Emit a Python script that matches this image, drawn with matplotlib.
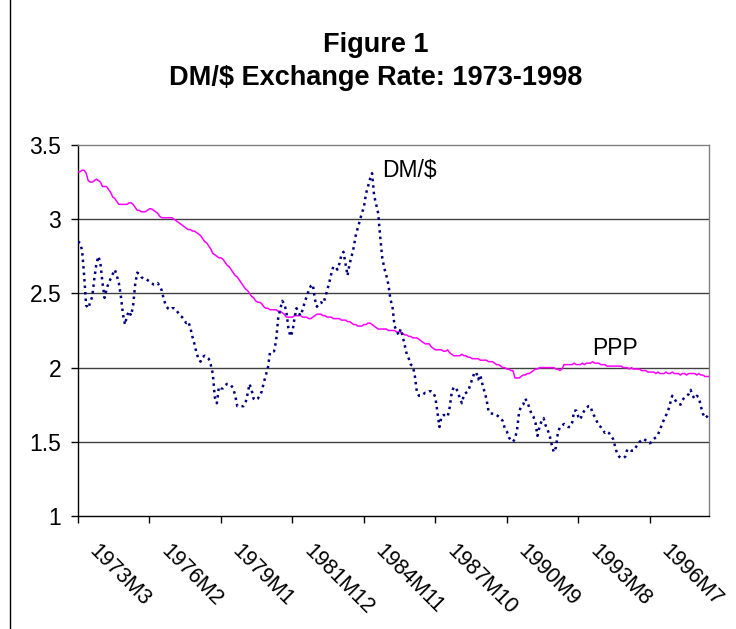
import numpy as np
import matplotlib
matplotlib.use("Agg")
import matplotlib.pyplot as plt
from matplotlib.lines import Line2D
from matplotlib.transforms import ScaledTranslation

plt.rcParams['font.family'] = ['Liberation Sans', 'DejaVu Sans']

# monthly data, 1973M3 - 1998M12
dm_dollar = [
    2.85, 2.84, 2.79, 2.62, 2.42, 2.40, 2.44, 2.48, 2.60, 2.70, 2.75, 2.70,
    2.57, 2.47, 2.53, 2.57, 2.60, 2.63, 2.66, 2.62, 2.57, 2.48, 2.36, 2.29,
    2.35, 2.38, 2.35, 2.42, 2.56, 2.64, 2.63, 2.61, 2.60, 2.60, 2.59, 2.58,
    2.57, 2.56, 2.56, 2.57, 2.55, 2.52, 2.46, 2.42, 2.40, 2.39, 2.40, 2.40,
    2.39, 2.37, 2.35, 2.34, 2.32, 2.30, 2.31, 2.27, 2.21, 2.16, 2.10, 2.06,
    2.04, 2.07, 2.08, 2.07, 2.06, 2.02, 1.96, 1.80, 1.76, 1.87, 1.86, 1.86,
    1.88, 1.89, 1.89, 1.88, 1.86, 1.81, 1.74, 1.74, 1.74, 1.74, 1.76, 1.82,
    1.89, 1.85, 1.79, 1.78, 1.79, 1.81, 1.84, 1.90, 1.95, 2.00, 2.10, 2.11,
    2.11, 2.18, 2.33, 2.39, 2.45, 2.43, 2.38, 2.27, 2.21, 2.24, 2.33, 2.40,
    2.37, 2.35, 2.39, 2.44, 2.48, 2.52, 2.55, 2.56, 2.46, 2.41, 2.43, 2.44,
    2.43, 2.47, 2.52, 2.57, 2.63, 2.68, 2.68, 2.66, 2.70, 2.76, 2.78, 2.70,
    2.62, 2.70, 2.75, 2.81, 2.89, 2.94, 2.99, 3.04, 3.08, 3.17, 3.22, 3.27,
    3.31, 3.16, 3.10, 3.04, 2.88, 2.74, 2.67, 2.62, 2.56, 2.46, 2.41, 2.28,
    2.25, 2.22, 2.26, 2.21, 2.15, 2.09, 2.06, 2.02, 2.01, 1.94, 1.83, 1.81,
    1.81, 1.82, 1.83, 1.83, 1.84, 1.84, 1.83, 1.80, 1.70, 1.60, 1.67, 1.68,
    1.68, 1.67, 1.73, 1.83, 1.87, 1.86, 1.84, 1.79, 1.76, 1.82, 1.83, 1.84,
    1.88, 1.92, 1.96, 1.97, 1.92, 1.95, 1.89, 1.84, 1.79, 1.71, 1.69, 1.69,
    1.69, 1.68, 1.67, 1.66, 1.64, 1.59, 1.57, 1.53, 1.51, 1.50, 1.52, 1.58,
    1.70, 1.74, 1.75, 1.79, 1.77, 1.73, 1.69, 1.67, 1.63, 1.54, 1.60, 1.64,
    1.66, 1.61, 1.58, 1.54, 1.48, 1.43, 1.46, 1.56, 1.60, 1.61, 1.62, 1.61,
    1.60, 1.60, 1.63, 1.71, 1.71, 1.67, 1.65, 1.69, 1.71, 1.73, 1.74, 1.74,
    1.69, 1.67, 1.64, 1.61, 1.60, 1.58, 1.56, 1.57, 1.56, 1.54, 1.52, 1.47,
    1.42, 1.40, 1.39, 1.39, 1.40, 1.45, 1.45, 1.44, 1.44, 1.46, 1.48, 1.50,
    1.51, 1.52, 1.51, 1.50, 1.49, 1.50, 1.52, 1.53, 1.55, 1.58, 1.62, 1.65,
    1.68, 1.71, 1.76, 1.81, 1.79, 1.77, 1.76, 1.75, 1.78, 1.80, 1.81, 1.82,
    1.85, 1.81, 1.79, 1.81, 1.80, 1.74, 1.69, 1.66, 1.67, 1.69,
]

ppp = [
    3.32, 3.32, 3.33, 3.33, 3.31, 3.26, 3.25, 3.25, 3.26, 3.27, 3.26, 3.25,
    3.22, 3.22, 3.22, 3.20, 3.18, 3.15, 3.14, 3.12, 3.10, 3.10, 3.10, 3.10,
    3.10, 3.11, 3.11, 3.10, 3.08, 3.06, 3.06, 3.05, 3.05, 3.05, 3.06, 3.07,
    3.07, 3.06, 3.05, 3.04, 3.02, 3.01, 3.01, 3.01, 3.01, 3.01, 3.01, 3.00,
    2.99, 2.98, 2.97, 2.96, 2.95, 2.94, 2.93, 2.93, 2.92, 2.92, 2.91, 2.90,
    2.89, 2.87, 2.85, 2.84, 2.82, 2.80, 2.77, 2.76, 2.75, 2.74, 2.74, 2.73,
    2.71, 2.69, 2.68, 2.66, 2.64, 2.62, 2.61, 2.59, 2.57, 2.55, 2.53, 2.52,
    2.50, 2.48, 2.47, 2.45, 2.44, 2.44, 2.43, 2.41, 2.40, 2.40, 2.39, 2.39,
    2.39, 2.39, 2.38, 2.38, 2.37, 2.36, 2.34, 2.34, 2.34, 2.34, 2.35, 2.35,
    2.35, 2.35, 2.34, 2.34, 2.34, 2.33, 2.33, 2.34, 2.35, 2.36, 2.36, 2.36,
    2.35, 2.35, 2.34, 2.34, 2.34, 2.33, 2.33, 2.33, 2.33, 2.32, 2.32, 2.32,
    2.31, 2.31, 2.30, 2.29, 2.29, 2.28, 2.28, 2.28, 2.29, 2.29, 2.30, 2.30,
    2.29, 2.28, 2.27, 2.26, 2.26, 2.26, 2.26, 2.26, 2.25, 2.25, 2.25, 2.25,
    2.24, 2.24, 2.24, 2.23, 2.22, 2.22, 2.21, 2.21, 2.20, 2.20, 2.20, 2.19,
    2.18, 2.17, 2.16, 2.16, 2.16, 2.14, 2.13, 2.12, 2.12, 2.12, 2.12, 2.11,
    2.11, 2.12, 2.10, 2.09, 2.08, 2.08, 2.08, 2.08, 2.09, 2.08, 2.08, 2.07,
    2.07, 2.06, 2.06, 2.06, 2.06, 2.05, 2.05, 2.05, 2.05, 2.04, 2.04, 2.04,
    2.03, 2.02, 2.02, 2.01, 2.00, 2.00, 1.99, 1.99, 1.98, 1.98, 1.93, 1.93,
    1.93, 1.94, 1.95, 1.95, 1.96, 1.96, 1.97, 1.98, 1.99, 1.99, 2.00, 2.00,
    2.00, 2.00, 2.00, 2.00, 2.00, 2.00, 1.99, 1.99, 1.98, 1.99, 2.02, 2.02,
    2.02, 2.02, 2.02, 2.03, 2.02, 2.02, 2.02, 2.03, 2.02, 2.03, 2.03, 2.03,
    2.04, 2.03, 2.03, 2.03, 2.02, 2.02, 2.02, 2.01, 2.01, 2.01, 2.01, 2.01,
    2.01, 2.01, 2.01, 2.00, 2.00, 2.00, 1.99, 2.00, 1.99, 1.99, 1.99, 1.99,
    1.98, 1.98, 1.98, 1.97, 1.97, 1.97, 1.97, 1.96, 1.97, 1.96, 1.96, 1.96,
    1.97, 1.96, 1.96, 1.97, 1.96, 1.96, 1.96, 1.95, 1.96, 1.96, 1.95, 1.96,
    1.96, 1.96, 1.96, 1.95, 1.96, 1.95, 1.95, 1.94, 1.94, 1.94,
]

tick_labels = ["1973M3", "1976M2", "1979M1", "1981M12", "1984M11",
               "1987M10", "1990M9", "1993M8", "1996M7"]
tick_step = 35

months = np.arange(len(dm_dollar))
tick_pos = np.arange(len(tick_labels)) * tick_step

fig = plt.figure(figsize=(7.36, 6.29), dpi=100)
ax = fig.add_axes([78 / 736, 1 - 516 / 629, 631 / 736, 371 / 629])

# left edge of the chart area frame
fig.add_artist(Line2D([9.5 / 736, 9.5 / 736], [0, 1], transform=fig.transFigure,
                      color="black", linewidth=1))

for v in [1.5, 2, 2.5, 3]:
    ax.axhline(v, color="#404040", linewidth=1, zorder=1)

ax.plot(months, ppp, color="#ff00ff", linewidth=1.1, zorder=3)
ax.plot(months, dm_dollar, color="#000080", linewidth=1.8,
        linestyle=(0, (1, 1.6)), zorder=4)

ax.set_xlim(0, len(dm_dollar) - 1)
ax.set_ylim(1, 3.5)
ax.set_yticks([1, 1.5, 2, 2.5, 3, 3.5])
ax.set_yticklabels(["1", "1.5", "2", "2.5", "3", "3.5"])
ax.set_xticks(tick_pos)
ax.set_xticklabels([])

# rotated category labels, offset a bit to the right of each tick
shift = ScaledTranslation(22 / 100, -25 / 100, fig.dpi_scale_trans)
for pos, lab in zip(tick_pos, tick_labels):
    ax.text(pos, 0, lab, transform=ax.get_xaxis_transform() + shift,
            rotation=-45, ha="left", va="top", rotation_mode="anchor",
            fontsize=15.5, clip_on=False)

ax.tick_params(axis="y", direction="out", length=5, width=1, labelsize=16.5, pad=7)
ax.tick_params(axis="x", direction="out", length=5, width=1)

ax.spines["left"].set_color("black")
ax.spines["bottom"].set_color("black")
ax.spines["top"].set_color("#808080")
ax.spines["right"].set_color("#808080")
for s in ax.spines.values():
    s.set_linewidth(1)

ax.text(149, 3.33, "DM/$", fontsize=16.5, va="center", ha="left")
ax.text(252, 2.13, "PPP", fontsize=16.5, va="center", ha="left")

fig.text(0.51, 1 - 45 / 629, "Figure 1", fontsize=19.5, fontweight="bold",
         ha="center", va="center")
fig.text(0.51, 1 - 78 / 629, "DM/$ Exchange Rate: 1973-1998", fontsize=19.5,
         fontweight="bold", ha="center", va="center")

fig.savefig("out.png", dpi=100)
